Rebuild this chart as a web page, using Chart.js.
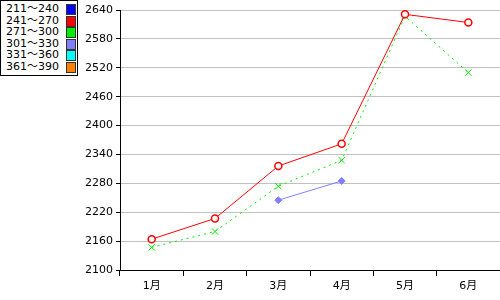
<!DOCTYPE html>
<html>
<head>
<meta charset="utf-8">
<script src="https://cdn.jsdelivr.net/npm/chart.js@4"></script>
<style>
  body { margin: 0; background: #fff; }
  #wrap { position: relative; width: 500px; height: 300px; }
  #legend {
    position: absolute; left: 0; top: 0; width: 76px;
    border: 1px solid #000; background: #fff; padding: 2px 0 3px 0;
    font: 11px "DejaVu Sans", "Noto Sans CJK JP", sans-serif; color: #000;
  }
  #legend div { position: relative; height: 11.5px; line-height: 11.5px; padding-left: 5px; }
  #legend span { position: absolute; left: 65px; top: 1px; width: 8px; height: 9px; border: 1px solid #333; }
</style>
</head>
<body>
<div id="wrap">
  <canvas id="chart" width="500" height="300"></canvas>
  <div id="legend"></div>
</div>
<script>
"use strict";
// ========== DATA ========== //
const months = ['1月', '2月', '3月', '4月', '5月', '6月'];
const seriesNames = ['211～240', '241～270', '271～300', '301～330', '331～360', '361～390'];
const seriesColors = ['#0000ff', '#ff0000', '#00ee00', '#8080ff', '#00ffff', '#ff8000'];

const values211 = [null, null, null, null, null, null];
const values241 = [2164, 2207, 2316, 2362, 2631, 2614];
const values271 = [2147, 2180, 2274, 2328, 2627, 2510];
const values301 = [null, null, 2245, 2285, null, null];
const values331 = [null, null, null, null, null, null];
const values361 = [null, null, null, null, null, null];

const yMin = 2100;
const yMax = 2640;
const yStep = 60;

// legend as html
let legend = document.querySelector('#legend');
seriesNames.forEach((name, i) => {
  let row = document.createElement('div');
  row.textContent = name;
  let box = document.createElement('span');
  box.style.background = seriesColors[i];
  row.appendChild(box);
  legend.appendChild(row);
});

// line styles per series
const allValues = [values211, values241, values271, values301, values331, values361];
const pointStyles = ['rect', 'circle', 'crossRot', 'rectRot', 'rect', 'rect'];
const dashes = [[], [], [2, 4], [], [], []];

let datasets = allValues.map((vals, i) => ({
  label: seriesNames[i],
  data: vals,
  borderColor: seriesColors[i],
  backgroundColor: i === 1 ? '#ffffff' : seriesColors[i],
  borderWidth: 1,
  borderDash: dashes[i],
  pointStyle: pointStyles[i],
  pointRadius: i === 2 ? 4.5 : 3.5,
  pointBorderWidth: i === 1 ? 1.5 : 1,
  pointBorderColor: seriesColors[i],
  pointBackgroundColor: i === 1 ? '#ffffff' : seriesColors[i],
  fill: false,
  clip: false,
  tension: 0
}));

const font = { family: '"DejaVu Sans", "Noto Sans CJK JP", sans-serif', size: 11 };

let chart = new Chart(document.querySelector('#chart'), {
  type: 'line',
  data: { labels: months, datasets: datasets },
  options: {
    responsive: false,
    animation: false,
    layout: { autoPadding: false, padding: { top: 10, right: 0 } },
    plugins: { legend: { display: false }, tooltip: { enabled: false } },
    scales: {
      x: {
        offset: true,
        grid: { offset: true, drawOnChartArea: false, drawTicks: true, tickLength: 6, tickColor: '#000' },
        border: { color: '#000', width: 1 },
        ticks: { color: '#000', font: font, padding: 4, maxRotation: 0 },
        afterFit: scale => {
          scale.height = 30;
          scale.paddingLeft = 0;
          scale.paddingRight = 0;
        }
      },
      y: {
        min: yMin,
        max: yMax,
        grid: { color: '#c0c0c0', tickColor: '#000', tickLength: 4 },
        border: { color: '#000', width: 1 },
        ticks: { stepSize: yStep, color: '#000', font: font, padding: 3, callback: v => String(v) },
        afterFit: scale => { scale.width = 120; }
      }
    }
  }
});
</script>
</body>
</html>
